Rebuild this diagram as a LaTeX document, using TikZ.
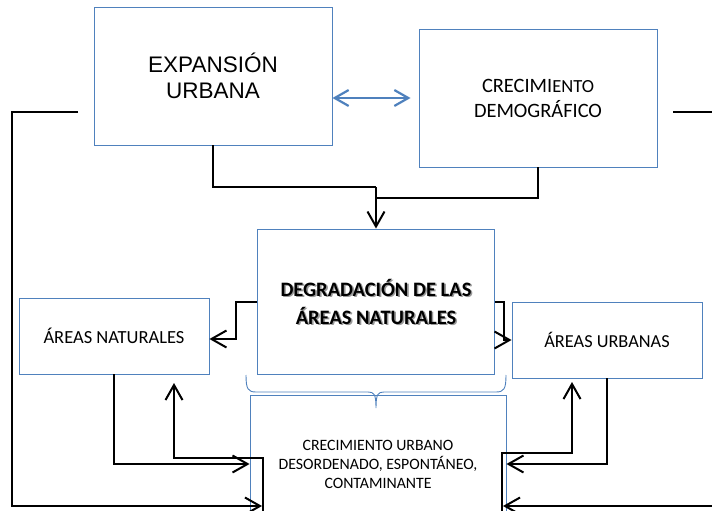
\documentclass[tikz,border=0pt]{standalone}
\usepackage{fontspec}
\setmainfont{Carlito}
\newfontfamily\arialfont{Liberation Sans}
\usetikzlibrary{arrows.meta}
\definecolor{boxblue}{RGB}{79,129,189}
\newcommand{\boxfont}[2]{\fontsize{#1}{#2}\selectfont}
\newcommand{\shadowline}[1]{\rlap{\kern1.6pt\raisebox{-1.6pt}[0pt][0pt]{\textcolor{black!40}{#1}}}#1}

\begin{document}
\begin{tikzpicture}[x = 1pt, y = -1pt, every node/.style = {rectangle, draw = boxblue, line width = 0.9pt, align = center, inner sep = 0pt},
	link/.style = {draw = black, line width = 2pt, -{Straight Barb[length = 15pt, width = 17pt]}},
	plain/.style = {draw = black, line width = 2pt},
	bothway/.style = {draw = boxblue, line width = 2.2pt, {Straight Barb[length = 14pt, width = 16pt]}-{Straight Barb[length = 14pt, width = 16pt]}}]

	\useasboundingbox (0, 0) rectangle (712, 511);
	\clip (0, 0) rectangle (712, 511);

	\node (EXP) at (213,  76)   [minimum width = 238, minimum height = 138, font = \arialfont\boxfont{22.5}{26}] {EXPANSIÓN\\URBANA};
	\node (CD)  at (538,  98)   [minimum width = 238, minimum height = 138, font = \boxfont{20.4}{25}] {CRECIMI{\boxfont{18.5}{25}ENTO}\\DEMOGRÁFICO};
	\node (DEG) at (376, 301.5) [minimum width = 237, minimum height = 145, font = \bfseries\boxfont{20.5}{28}] {\shadowline{DEGRADACIÓN DE LAS}\\\shadowline{ÁREAS NATURALES}};
	\node (AN)  at (114, 336)   [minimum width = 190, minimum height = 76, font = \boxfont{18.5}{22}] {ÁREAS NATURALES};
	\node (AU)  at (607, 340)   [minimum width = 190, minimum height = 76, font = \boxfont{18.3}{22}] {ÁREAS URBANAS};
	\node (CU)  at (378, 464)   [minimum width = 256, minimum height = 138, font = \boxfont{15.8}{19}] {CRECIMIENTO URBANO\\DESORDENADO, ESPONTÁNEO,\\CONTAMINANTE};

	\coordinate (J1)   at (376, 187);
	\coordinate (J2)   at (376, 198);
	\coordinate (EXPO) at ( 78, 112);
	\coordinate (CDO)  at (673, 112);
	\coordinate (LIN)  at (263, 530);
	\coordinate (RIN)  at (502, 530);
	\coordinate (ANI)  at (174, 383);
	\coordinate (AUI)  at (572, 382);
	\coordinate (LOUT) at (262, 506);
	\coordinate (ROUT) at (503, 506);

	\draw[bothway] (EXP.east |- CD.west) -- ([xshift = -8pt]CD.west);

	\foreach \from/\to in {EXP.south/J1, CD.south/J2}
		\draw[plain] (\from) |- (\to);
	\draw[link] (J1) -- (DEG.north);

	\draw[link] (DEG.west) -- ++(-21, 0) |- ([yshift = -3pt]AN.east);
	\draw[link] (DEG.east) -- ++(9, 0) |- (AU.west);

	\foreach \from/\to in {AN.south/CU.west, AU.south/CU.east}
		\draw[link] (\from) |- (\to);
	\draw[link] (LIN) -- ++(0, -72) -| (ANI);
	\draw[link] (RIN) -- ++(0, -77) -| (AUI);
	\draw[link] (EXPO) -- ++(-66, 0) |- (LOUT);
	\draw[link] (CDO) -- ++(60, 0) |- (ROUT);

	\draw[boxblue, line width = 0.9pt] (246, 375) .. controls (246, 389) and (248, 392) .. (256, 392) -- (368, 392)
		.. controls (374, 392) and (376, 394) .. (376, 408) .. controls (376, 394) and (378, 392) .. (384, 392)
		-- (496, 392) .. controls (504, 392) and (506, 389) .. (506, 375);

\end{tikzpicture}
\end{document}
